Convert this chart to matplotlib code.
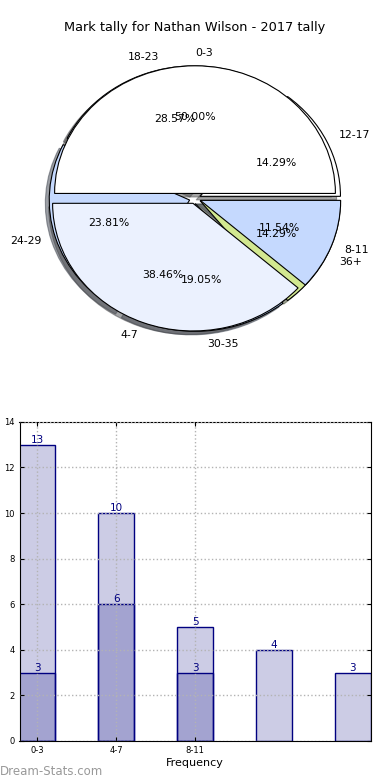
import numpy as np
from matplotlib import pyplot as plt

# pie data (two tallies overlaid on the same axes)
labels_a = ['0-3', '4-7', '8-11']
values_a = [13, 10, 3]
labels_b = ['12-17', '18-23', '24-29', '30-35', '36+']
values_b = [3, 6, 5, 4, 3]

# bar data
bar_light = [13, 10, 5, 4, 3]
bar_dark = [3, 6, 3]
bar_ticks = ['0-3', '4-7', '8-11']

colors_a = ['white', '#ebf1fe', '#c5d9fe']
colors_b = ['white', '#ebf1fe', '#c5d9fe', '#a9c4f0', '#d2e890']

fig, (ax1, ax2) = plt.subplots(2, 1, figsize=(3.9, 7.8), dpi=100)
fig.subplots_adjust(left=0.05, right=0.95, top=0.95, bottom=0.05, hspace=0.2)

wedge_kw = dict(edgecolor='black', linewidth=0.8)
txt_kw = dict(fontsize=7.8)
ax1.pie(values_b, labels=labels_b, colors=colors_b, explode=[0.04] * 5,
        shadow=True, autopct='%.2f%%', startangle=0, wedgeprops=wedge_kw,
        textprops=txt_kw)
_, texts_a, _ = ax1.pie(values_a, labels=labels_a, colors=colors_a,
                        explode=[0.04] * 3, shadow=True, autopct='%.2f%%',
                        startangle=0, wedgeprops=wedge_kw, textprops=txt_kw)
texts_a[0].set_ha('left')
ax1.set_aspect('auto')
ax1.set_xlim(-1.25, 1.25)
ax1.set_ylim(-1.25, 1.25)
ax1.set_title('Mark tally for Nathan Wilson - 2017 tally', fontsize=9.3)

navy = (0, 0, 0.5)
fill = (0, 0, 0.5, 0.2)
width = 0.45
x_light = np.arange(len(bar_light))
x_dark = np.arange(len(bar_dark))
ax2.bar(x_light, bar_light, width, color=fill, edgecolor=navy, linewidth=1)
ax2.bar(x_dark, bar_dark, width, color=fill, edgecolor=navy, linewidth=1)
for x, v in zip(x_light, bar_light):
    ax2.text(x, v, str(v), ha='center', va='bottom', color=navy, fontsize=7.5)
for x, v in zip(x_dark, bar_dark):
    ax2.text(x, v, str(v), ha='center', va='bottom', color=navy, fontsize=7.5)

ax2.set_xlim(-width / 2, len(bar_light) - 1 + width / 2)
ax2.set_ylim(0, 14)
ax2.set_yticks(range(0, 15, 2))
ax2.set_xticks(x_dark)
ax2.set_xticklabels(bar_ticks)
ax2.tick_params(direction='in', top=True, right=True, labelsize=6, length=3)
ax2.grid(True, color='0.7', linestyle=':', linewidth=1)
ax2.set_axisbelow(False)
ax2.set_xlabel('Frequency', fontsize=8, labelpad=2)

fig.text(0.0, 0.006, 'Dream-Stats.com', color='0.6', fontsize=8.5)

plt.savefig('out.png')
